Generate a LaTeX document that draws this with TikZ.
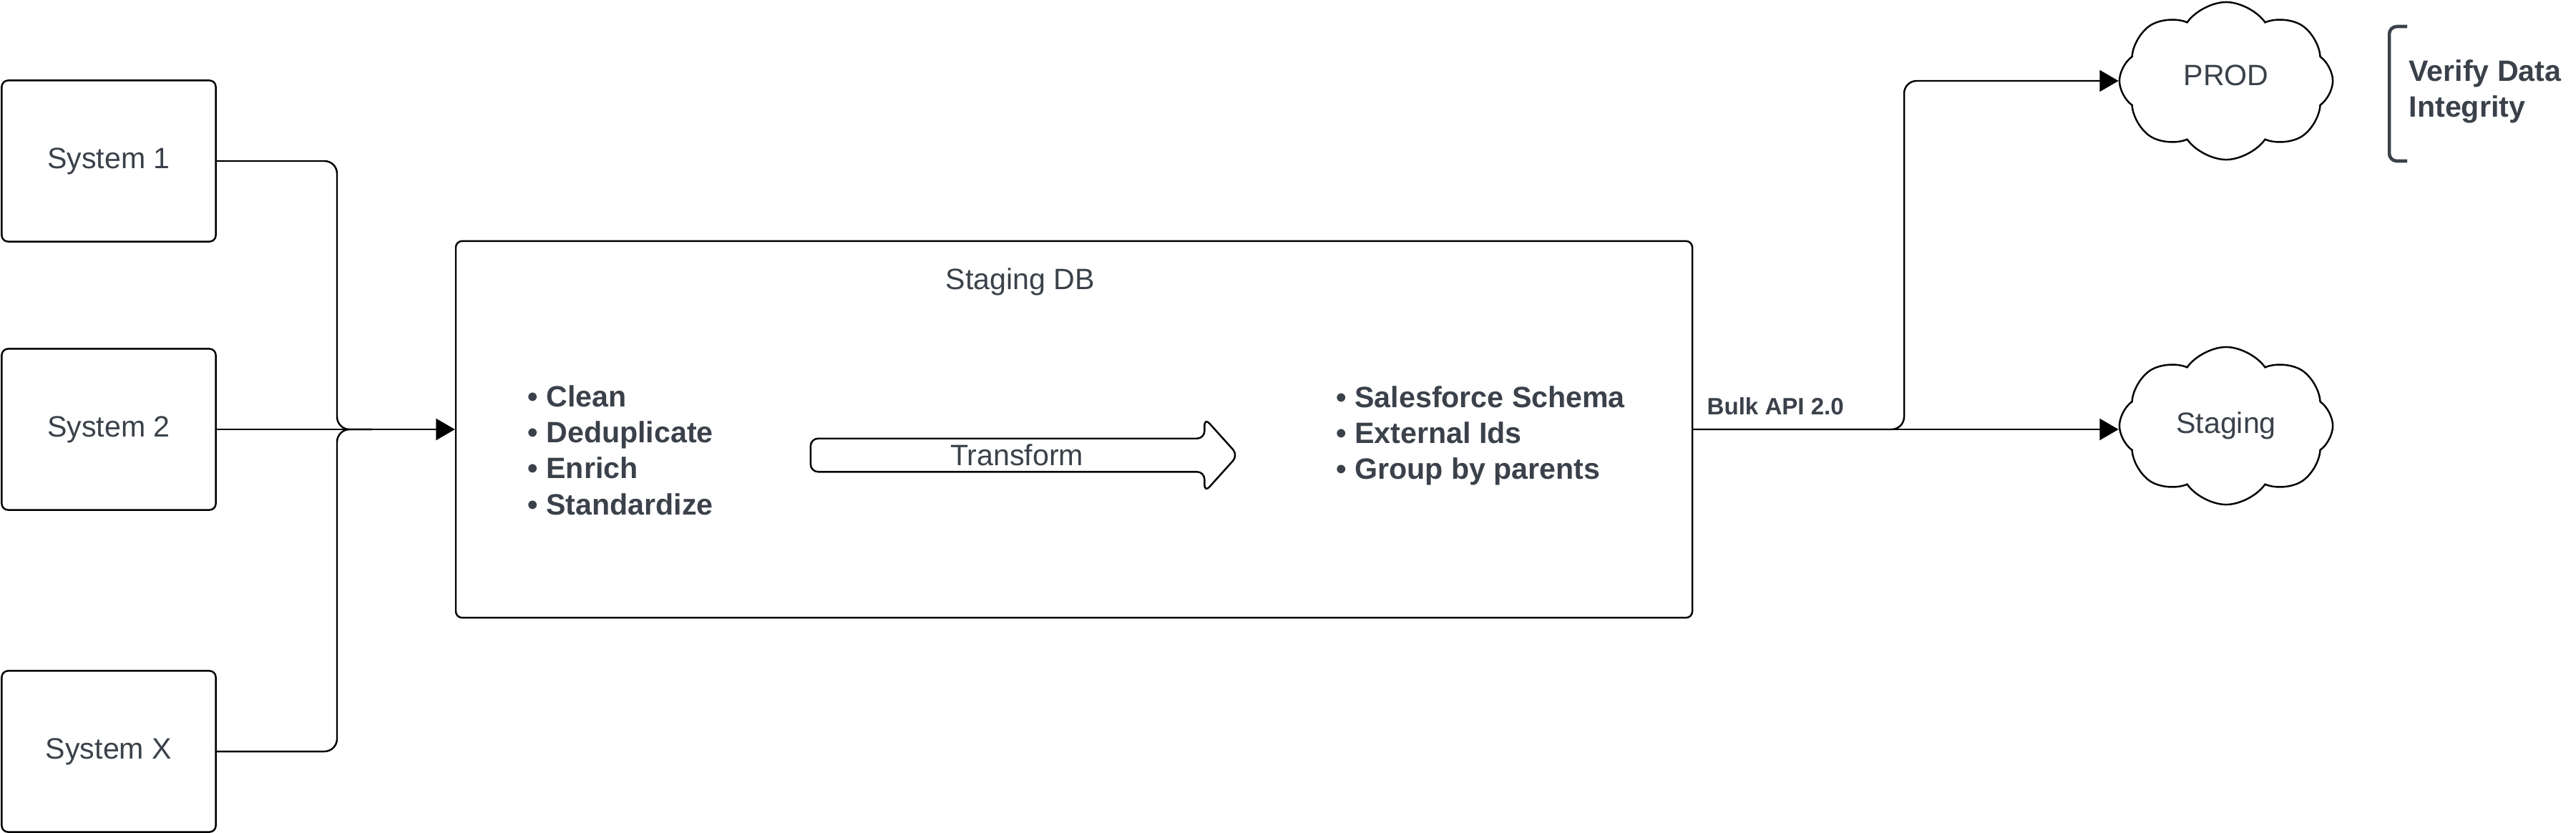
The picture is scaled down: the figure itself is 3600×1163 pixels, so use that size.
\documentclass[tikz,border=0pt]{standalone}
\usepackage{fontspec}
\setmainfont{Liberation Sans}
\usetikzlibrary{arrows.meta,shapes.arrows,shapes.symbols}
\definecolor{ink}{HTML}{3A414A}

\begin{document}
\begin{tikzpicture}[x = 0.01cm, y = -0.01cm,
  txt/.style = {text = ink, font = \fontsize{11.7}{14.3}\selectfont},
  boldtxt/.style = {text = ink, align = left, inner sep = 0pt, font = \fontsize{11.7}{14.3}\selectfont\bfseries},
  system/.style = {txt, draw, line width = 0.7pt, rounded corners = 2.5pt, minimum width = 2.99cm, minimum height = 2.25cm},
  stagebox/.style = {draw, line width = 0.7pt, rounded corners = 2.5pt, minimum width = 17.27cm, minimum height = 5.26cm},
  env/.style = {txt, draw, line width = 0.7pt, cloud, cloud puffs = 8, cloud puff arc = 110, cloud ignores aspect, minimum width = 2.98cm, minimum height = 2.2cm, inner sep = 0pt},
  link/.style = {line width = 0.7pt, rounded corners = 5pt},
  tip/.style = {-{Triangle[length = 7.5pt, width = 8.5pt]}}]

\useasboundingbox (0,0) rectangle (3600,1163);

\node[system] (sys1) at (152,225) {System 1};
\node[system] (sys2) at (152,600) {System 2};
\node[system] (sysx) at (152,1050) {System X};

\node[stagebox] (db) at (1501,600) {};
\node[txt] (dblabel) at (1426,394) {Staging DB};
\node[boldtxt, anchor = west] (prep) at (737,629) {•~Clean\\•~Deduplicate\\•~Enrich\\•~Standardize};
\node[boldtxt, anchor = west] (load) at (1867,609) {•~Salesforce Schema\\•~External Ids\\•~Group by parents};
\node[txt, draw, line width = 0.7pt, single arrow, single arrow head extend = 0.245cm, single arrow tip angle = 96,
  minimum width = 1.04cm, minimum height = 5.97cm, inner sep = 1pt, rounded corners = 3pt] (transform) at (1421,636) {Transform};

\node[env, text height = 8.5pt, text depth = 5pt] (prod) at (3111,113) {PROD};
\node[env] (staging) at (3111,595) {Staging};
\node[boldtxt, anchor = west] (verify) at (3366,128) {Verify Data\\Integrity};
\node[text = ink, font = \fontsize{9.4}{11}\selectfont\bfseries, inner sep = 0pt, anchor = base west] (api) at (2385,579) {Bulk API 2.0};

\coordinate (bus) at (471,600);
\coordinate (merge) at (520,600);
\coordinate (fork) at (2661,600);

\draw[link] (sys1.east) -| (bus) -- (merge);
\draw[link] (sysx.east) -| (bus) -- (merge);
\draw[link, tip] (sys2.east) -- (db.west);
\draw[link, tip] (db.east) -- (staging.west |- db.east);
\draw[link, tip] (db.east) -- (fork) |- (prod.west);

\draw[ink, line width = 1.3pt, rounded corners = 3pt] (3364,37) -- (3339,37) -- (3339,225) -- (3364,225);

\end{tikzpicture}
\end{document}
